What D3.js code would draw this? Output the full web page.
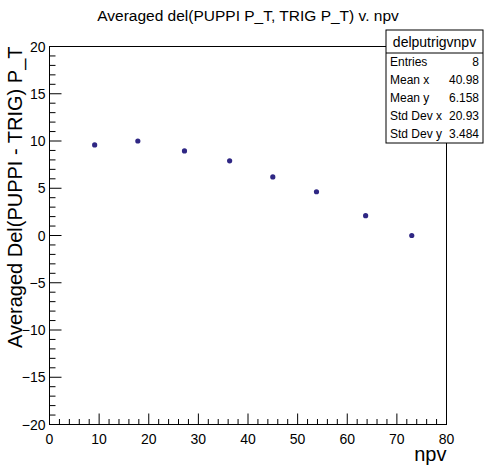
<!DOCTYPE html>
<html><head><meta charset="utf-8">
<script src="https://cdn.jsdelivr.net/npm/d3@7"></script>
<style>body{margin:0;background:#fff}text{font-family:"Liberation Sans",Arial,sans-serif}</style>
</head><body><div id="chart"></div>
<script>
var npv = [9.1, 17.8, 27.2, 36.3, 45.0, 53.8, 63.7, 73.0];
var delPt = [9.58, 10.0, 8.95, 7.9, 6.2, 4.63, 2.1, 0.0];
var statLabels = ["Entries", "Mean x", "Mean y", "Std Dev x", "Std Dev y"];
var statValues = ["8", "40.98", "6.158", "20.93", "3.484"];

var W = 496, H = 472;
var svg = d3.select("#chart").append("svg").attr("width", W).attr("height", H);
var x = d3.scaleLinear().domain([0, 80]).range([49.5, 446.5]);
var y = d3.scaleLinear().domain([-20, 20]).range([424.5, 46.5]);

// frame
svg.append("rect").attr("x", x(0)).attr("y", y(20)).attr("width", x(80) - x(0))
   .attr("height", y(-20) - y(20)).attr("fill", "none").attr("stroke", "#000");

// x ticks
var gx = svg.append("g");
d3.range(0, 81, 2).forEach(function(v) {
  var major = v % 10 === 0;
  gx.append("line").attr("x1", x(v)).attr("x2", x(v)).attr("y1", y(-20))
    .attr("y2", y(-20) - (major ? 11 : 5.5)).attr("stroke", "#000");
  if (major) gx.append("text").attr("x", x(v)).attr("y", y(-20) + 19)
    .attr("text-anchor", "middle").attr("font-size", 14).text(v);
});
// y ticks
d3.range(-20, 21, 1).forEach(function(v) {
  var major = v % 5 === 0;
  gx.append("line").attr("x1", x(0)).attr("x2", x(0) + (major ? 12 : 6))
    .attr("y1", y(v)).attr("y2", y(v)).attr("stroke", "#000");
  if (major) gx.append("text").attr("x", x(0) - 4).attr("y", y(v) + 5)
    .attr("text-anchor", "end").attr("font-size", 14).text(v < 0 ? "\u2212" + (-v) : v);
});

// points
svg.selectAll("circle.pt").data(npv).enter().append("circle")
   .attr("cx", function(d) { return x(d); })
   .attr("cy", function(d, i) { return y(delPt[i]); })
   .attr("r", 2.6).attr("fill", "#2f2784");

// titles
svg.append("text").attr("x", 248).attr("y", 21).attr("text-anchor", "middle")
   .attr("font-size", 15.5).text("Averaged del(PUPPI P_T, TRIG P_T) v. npv");
svg.append("text").attr("x", x(80)).attr("y", 461).attr("text-anchor", "end")
   .attr("font-size", 20).text("npv");
svg.append("text").attr("transform", "translate(22," + y(20) + ") rotate(-90)")
   .attr("text-anchor", "end").attr("font-size", 20).text("Averaged Del(PUPPI - TRIG) P_T");

// stats box
var bx = 386, by = 30, bw = 97, bt = 23, bh = 113;
svg.append("rect").attr("x", bx).attr("y", by).attr("width", bw).attr("height", bh)
   .attr("fill", "#fff").attr("stroke", "#000");
svg.append("line").attr("x1", bx).attr("x2", bx + bw).attr("y1", by + bt).attr("y2", by + bt).attr("stroke", "#000");
svg.append("text").attr("x", bx + bw / 2).attr("y", by + 17).attr("text-anchor", "middle")
   .attr("font-size", 14).text("delputrigvnpv");
var rowH = (bh - bt) / statLabels.length;
statLabels.forEach(function(l, i) {
  var ty = by + bt + rowH * (i + 0.5) + 4;
  svg.append("text").attr("x", bx + 4).attr("y", ty).attr("font-size", 12).text(l);
  svg.append("text").attr("x", bx + bw - 4).attr("y", ty).attr("text-anchor", "end")
     .attr("font-size", 12).text(statValues[i]);
});
</script></body></html>
